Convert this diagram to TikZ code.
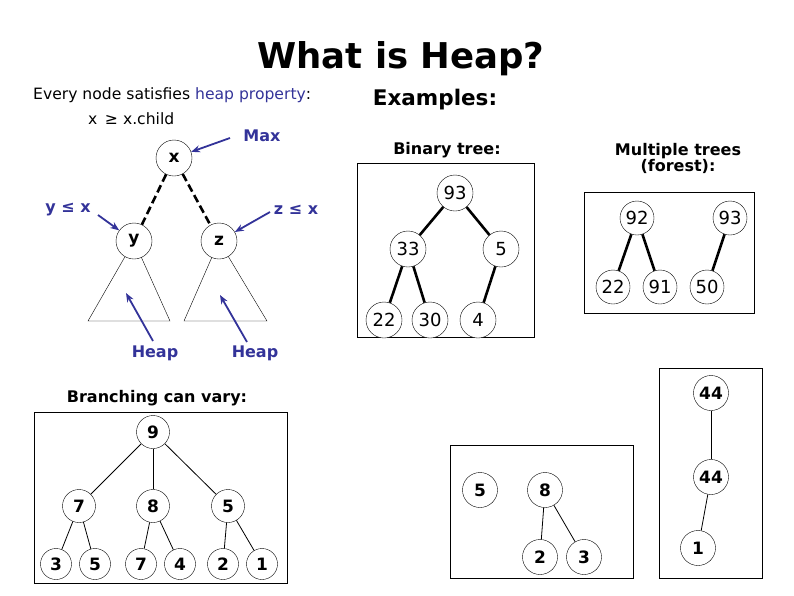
\documentclass[tikz,border=0pt]{standalone}
\usepackage{fontspec}
\setmainfont{DejaVu Sans}
\usetikzlibrary{arrows.meta}
\definecolor{heapblue}{RGB}{51,51,153}
\newcommand{\pxsize}[1]{\fontsize{#1}{#1}\selectfont}
\tikzset{
  titletext/.style={font=\bfseries\pxsize{35.5}},
  heading/.style={font=\bfseries\pxsize{16}},
  bodytext/.style={font=\pxsize{15.6}, inner sep=0},
  note/.style={font=\bfseries\pxsize{16}, text=heapblue, inner sep=0},
  letter/.style={circle, draw, fill=white, minimum size=36, inner sep=0, font=\bfseries\pxsize{17}},
  numnode/.style={circle, draw, fill=white, minimum size=36, inner sep=0, font=\pxsize{18}},
  boldnum/.style={circle, draw, fill=white, minimum size=33, inner sep=0, font=\bfseries\pxsize{17}},
  ptr/.style={-{Stealth[length=9, width=7]}, draw=heapblue, line width=1.8},
  dashlink/.style={line width=2.6, dash pattern=on 8 off 4},
  treelink/.style={line width=2.6},
  thinlink/.style={line width=0.8}
}
\begin{document}
\begin{tikzpicture}[x=1pt, y=-1pt]
  \useasboundingbox (0,0) rectangle (794,595);
  % Title
  \node[titletext] (title) at (401,59) {What is Heap?};
  \node[bodytext, anchor=west] (rule) at (33,95) {Every node satisfies \textcolor{heapblue}{heap property}:};
  \node[bodytext, anchor=west] (ineq) at (88,119) {x \,≥ x.child};
  \node[font=\bfseries\pxsize{21.5}] (examples) at (435,100) {Examples:};
  % Subtree triangles
  \draw (134,241) -- (88,321) -- (170,321) -- cycle;
  \draw (219,241) -- (184,321) -- (267,321) -- cycle;
  % Heap property nodes
  \node[letter] (x) at (174,158) {x};
  \node[letter] (y) at (134,241) {y};
  \node[letter] (z) at (219,241) {z};
  \draw[dashlink] (x) -- (y);
  \draw[dashlink] (x) -- (z);
  % Blue labels and pointers
  \node[note] (maxlbl) at (262,136) {Max};
  \node[note] (ylbl) at (68,210) {y ≤ x};
  \node[note] (zlbl) at (296,210) {z ≤ x};
  \node[note] (heapl) at (155,353) {Heap};
  \node[note] (heapr) at (255,353) {Heap};
  \coordinate (maxtail) at (230,138);
  \coordinate (ytail) at (98,215);
  \coordinate (ztail) at (270,212);
  \coordinate (heapltail) at (153,341);
  \coordinate (heaplhead) at (126,293);
  \coordinate (heaprtail) at (247,342);
  \coordinate (heaprhead) at (220,295);
  \draw[ptr] (maxtail) -- (x);
  \draw[ptr] (ytail) -- (y);
  \draw[ptr] (ztail) -- (z);
  \draw[ptr] (heapltail) -- (heaplhead);
  \draw[ptr] (heaprtail) -- (heaprhead);
  % Binary tree
  \node[heading] (bintitle) at (447,150) {Binary tree:};
  \draw (357,163) rectangle (534,337);
  \node[numnode] (b93) at (455,193) {93};
  \node[numnode] (b33) at (408,249) {33};
  \node[numnode] (b5) at (501,249) {5};
  \node[numnode] (b22) at (384,320) {22};
  \node[numnode] (b30) at (430,320) {30};
  \node[numnode] (b4) at (478,320) {4};
  \draw[treelink] (b93) -- (b33);
  \draw[treelink] (b93) -- (b5);
  \draw[treelink] (b33) -- (b22);
  \draw[treelink] (b33) -- (b30);
  \draw[treelink] (b5) -- (b4);
  % Forest
  \node[heading, align=center] (foresttitle) at (678,158) {Multiple trees\\(forest):};
  \draw (584,192) rectangle (754,313);
  \node[numnode, minimum size=34] (f92) at (637,218) {92};
  \node[numnode, minimum size=34] (f93) at (730,218) {93};
  \node[numnode, minimum size=34] (f22) at (613,287) {22};
  \node[numnode, minimum size=34] (f91) at (660,287) {91};
  \node[numnode, minimum size=34] (f50) at (707,287) {50};
  \draw[treelink] (f92) -- (f22);
  \draw[treelink] (f92) -- (f91);
  \draw[treelink] (f93) -- (f50);
  % Branching can vary
  \node[heading] (branchtitle) at (157,398) {Branching can vary:};
  \draw (34,412) rectangle (287,583);
  \node[boldnum] (r9) at (153,432) {9};
  \node[boldnum] (r7) at (79,506) {7};
  \node[boldnum] (r8) at (153,506) {8};
  \node[boldnum] (r5) at (228,506) {5};
  \node[boldnum, minimum size=31] (l3) at (56,564) {3};
  \node[boldnum, minimum size=31] (l5) at (95,564) {5};
  \node[boldnum, minimum size=31] (l7) at (141,564) {7};
  \node[boldnum, minimum size=31] (l4) at (180,564) {4};
  \node[boldnum, minimum size=31] (l2) at (223,564) {2};
  \node[boldnum, minimum size=31] (l1) at (262,564) {1};
  \draw[thinlink] (r9) -- (r7);
  \draw[thinlink] (r9) -- (r8);
  \draw[thinlink] (r9) -- (r5);
  \draw[thinlink] (r7) -- (l3);
  \draw[thinlink] (r7) -- (l5);
  \draw[thinlink] (r8) -- (l7);
  \draw[thinlink] (r8) -- (l4);
  \draw[thinlink] (r5) -- (l2);
  \draw[thinlink] (r5) -- (l1);
  % Small forest
  \draw (450,445) rectangle (633,578);
  \node[boldnum, minimum size=35] (s5) at (480,490) {5};
  \node[boldnum, minimum size=35] (s8) at (545,490) {8};
  \node[boldnum, minimum size=35] (s2) at (540,557) {2};
  \node[boldnum, minimum size=35] (s3) at (584,557) {3};
  \draw[thinlink] (s8) -- (s2);
  \draw[thinlink] (s8) -- (s3);
  % Chain
  \draw (659,368) rectangle (762,578);
  \node[boldnum, minimum size=35] (c44) at (711,393) {44};
  \node[boldnum, minimum size=35] (m44) at (711,477) {44};
  \node[boldnum, minimum size=35] (c1) at (698,548) {1};
  \draw[thinlink] (c44) -- (m44);
  \draw[thinlink] (m44) -- (c1);
\end{tikzpicture}
\end{document}
